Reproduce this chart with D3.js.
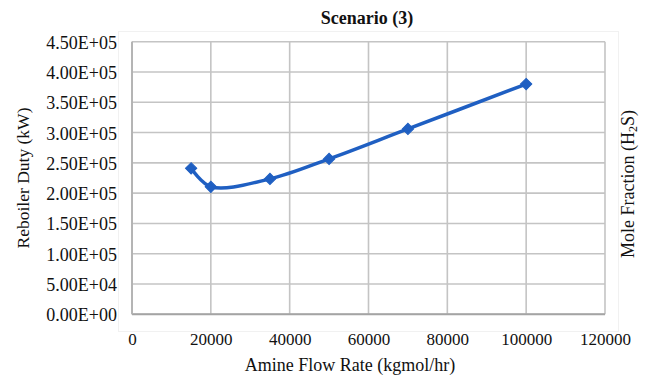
<!DOCTYPE html>
<html>
<head>
<meta charset="utf-8">
<script src="https://cdn.jsdelivr.net/npm/d3@7/dist/d3.min.js"></script>
<style>
  html, body { margin: 0; padding: 0; background: #fff; }
  svg text { font-family: "Liberation Serif", "Times New Roman", Times, "DejaVu Serif", serif; }
</style>
</head>
<body>
<svg id="chart" width="648" height="376"></svg>
<script>
// Amine flow rate (kgmol/hr) against reboiler duty (kW)
const flowRates = [15000, 20000, 35000, 50000, 70000, 100000];
const reboilerDuty = [241000, 210500, 223500, 256500, 306000, 380000];

const xTicks = [0, 20000, 40000, 60000, 80000, 100000, 120000];
const xTickLabels = ["0", "20000", "40000", "60000", "80000", "100000", "120000"];
const yTicks = [0, 50000, 100000, 150000, 200000, 250000, 300000, 350000, 400000, 450000];
const yTickLabels = ["0.00E+00", "5.00E+04", "1.00E+05", "1.50E+05", "2.00E+05",
                     "2.50E+05", "3.00E+05", "3.50E+05", "4.00E+05", "4.50E+05"];

const titleText = "Scenario (3)";
const xTitle = "Amine Flow Rate (kgmol/hr)";
const yTitle = "Reboiler Duty (kW)";

const FONT = '"Liberation Serif", "Times New Roman", Times, "DejaVu Serif", serif';

const svg = d3.select("#chart");
const plot = { left: 132, right: 605, top: 41.7, bottom: 314.3 };

const x = d3.scaleLinear().domain([0, 120000]).range([plot.left, plot.right]);
const y = d3.scaleLinear().domain([0, 450000]).range([plot.bottom, plot.top]);

// faint outline of the plot region
svg.append("rect")
  .attr("x", 118.5).attr("y", 31.5)
  .attr("width", 500).attr("height", 300)
  .attr("fill", "none").attr("stroke", "#f1f1f1").attr("stroke-width", 1);

// gridlines
const grid = svg.append("g");
grid.selectAll("line.h").data(yTicks).join("line")
  .attr("x1", plot.left).attr("x2", plot.right)
  .attr("y1", d => y(d)).attr("y2", d => y(d))
  .attr("stroke", "#c4c4c4").attr("stroke-width", 1.6);
grid.selectAll("line.v").data(xTicks).join("line")
  .attr("x1", d => x(d)).attr("x2", d => x(d))
  .attr("y1", plot.top).attr("y2", plot.bottom)
  .attr("stroke", "#c4c4c4").attr("stroke-width", 1.6);

// axis lines
svg.append("line")
  .attr("x1", plot.left).attr("x2", plot.right)
  .attr("y1", plot.bottom).attr("y2", plot.bottom)
  .attr("stroke", "#a4a4a4").attr("stroke-width", 2);
svg.append("line")
  .attr("x1", plot.left).attr("x2", plot.left)
  .attr("y1", plot.top).attr("y2", plot.bottom)
  .attr("stroke", "#b2b2b2").attr("stroke-width", 1.8);

// bottom axis labels
const xAxis = d3.axisBottom(x)
  .tickValues(xTicks)
  .tickFormat((d, i) => xTickLabels[i])
  .tickSize(0).tickPadding(0);
const gx = svg.append("g").attr("transform", `translate(0, 345)`).call(xAxis);
gx.attr("font-family", null).attr("font-size", null);
gx.select(".domain").remove();
gx.selectAll("text")
  .attr("dy", null).attr("y", 0)
  .attr("fill", "#111")
  .style("font-family", FONT)
  .style("font-size", "17px");

// left axis labels
const yAxis = d3.axisLeft(y)
  .tickValues(yTicks)
  .tickFormat((d, i) => yTickLabels[i])
  .tickSize(0).tickPadding(0);
const gy = svg.append("g").attr("transform", `translate(117, 0)`).call(yAxis);
gy.attr("font-family", null).attr("font-size", null);
gy.select(".domain").remove();
gy.selectAll("text")
  .attr("dy", "0.36em")
  .attr("fill", "#111")
  .style("font-family", FONT)
  .style("font-size", "18px");

// title
svg.append("text")
  .attr("x", 367).attr("y", 24)
  .attr("text-anchor", "middle")
  .attr("font-weight", "bold")
  .attr("font-size", 18)
  .attr("fill", "#111")
  .text(titleText);

// x axis title
svg.append("text")
  .attr("x", 350).attr("y", 371)
  .attr("text-anchor", "middle")
  .attr("font-size", 18)
  .attr("fill", "#111")
  .text(xTitle);

// y axis title
svg.append("text")
  .attr("transform", "translate(29, 178) rotate(-90)")
  .attr("text-anchor", "middle")
  .attr("font-size", 17.5)
  .attr("fill", "#111")
  .text(yTitle);

// secondary axis title
const y2 = svg.append("text")
  .attr("transform", "translate(634, 184) rotate(-90)")
  .attr("text-anchor", "middle")
  .attr("font-size", 18)
  .attr("fill", "#111");
y2.append("tspan").text("Mole Fraction (H");
y2.append("tspan").attr("font-size", 12).attr("dy", 3).text("2");
y2.append("tspan").attr("dy", -3).text("S)");

// data series
const points = flowRates.map((f, i) => [f, reboilerDuty[i]]);
const line = d3.line()
  .x(d => x(d[0])).y(d => y(d[1]))
  .curve(d3.curveCatmullRom.alpha(0.5));

svg.append("path")
  .datum(points)
  .attr("d", line)
  .attr("fill", "none")
  .attr("stroke", "#1f5fc2")
  .attr("stroke-width", 3.5)
  .attr("stroke-linejoin", "round");

const diamond = d3.symbol().type(d3.symbolSquare).size(64);
svg.append("g").selectAll("path").data(points).join("path")
  .attr("d", diamond)
  .attr("transform", d => `translate(${x(d[0])}, ${y(d[1])}) rotate(45)`)
  .attr("fill", "#1f5fc2")
  .attr("stroke", "#1f5fc2")
  .attr("stroke-width", 1);
</script>
</body>
</html>
